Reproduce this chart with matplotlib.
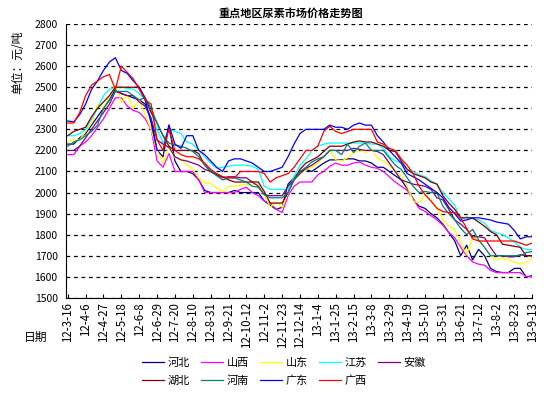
import numpy as np
import matplotlib
matplotlib.use("Agg")
import matplotlib.pyplot as plt

plt.rcParams['font.family'] = ['Noto Sans CJK SC', 'DejaVu Sans']

# weekly dates, a tick label every 3 weeks
tick_labels = ["12-3-16", "12-4-6", "12-4-27", "12-5-18", "12-6-8", "12-6-29", "12-7-20",
               "12-8-10", "12-8-31", "12-9-21", "12-10-12", "12-11-2", "12-11-23", "12-12-14",
               "13-1-4", "13-1-25", "13-2-15", "13-3-8", "13-3-29", "13-4-19", "13-5-10",
               "13-5-31", "13-6-21", "13-7-12", "13-8-2", "13-8-23", "13-9-13"]

hebei = [2230, 2230, 2260, 2280, 2320, 2360, 2400, 2440, 2490, 2470, 2460, 2450, 2440, 2420, 2350, 2200,
         2170, 2320, 2150, 2100, 2100, 2090, 2060, 2010, 2000, 2000, 2000, 2000, 2010, 2000, 2000, 2000,
         2000, 1960, 1940, 1920, 1930, 2040, 2070, 2100, 2110, 2100, 2120, 2140, 2155, 2155, 2155, 2160,
         2160, 2150, 2150, 2140, 2120, 2120, 2100, 2080, 2060, 2020, 1970, 1935, 1925, 1900, 1880, 1850,
         1810, 1770, 1700, 1750, 1680, 1730, 1700, 1640, 1625, 1620, 1620, 1640, 1640, 1600, 1605]
shanxi = [2180, 2180, 2220, 2240, 2270, 2310, 2350, 2400, 2450, 2450, 2410, 2390, 2380, 2350, 2300, 2150,
          2120, 2185, 2100, 2100, 2100, 2100, 2060, 2000, 2000, 2000, 2000, 2000, 2000, 2015, 2025, 2000,
          1985, 1960, 1950, 1920, 1905, 1985, 2030, 2050, 2050, 2050, 2085, 2100, 2125, 2140, 2130, 2130,
          2140, 2145, 2130, 2120, 2115, 2100, 2075, 2050, 2030, 2010, 1970, 1925, 1910, 1890, 1870, 1845,
          1810, 1785, 1740, 1700, 1670, 1660, 1655, 1630, 1620, 1620, 1620, 1620, 1620, 1600, 1600]
shandong = [2240, 2250, 2250, 2290, 2330, 2420, 2400, 2460, 2510, 2430, 2460, 2400, 2440, 2370, 2300, 2200,
            2140, 2225, 2165, 2160, 2130, 2110, 2070, 2045, 2045, 2020, 2005, 2030, 2030, 2035, 2040, 2040,
            2040, 1990, 1930, 1955, 1930, 2000, 2060, 2085, 2110, 2120, 2140, 2170, 2200, 2155, 2150, 2165,
            2190, 2205, 2190, 2205, 2165, 2150, 2130, 2100, 2080, 2030, 1960, 1950, 1990, 1960, 1930, 1870,
            1840, 1825, 1760, 1705, 1790, 1775, 1740, 1700, 1680, 1690, 1680, 1670, 1660, 1670, 1690]
jiangsu = [2270, 2270, 2280, 2300, 2350, 2400, 2460, 2490, 2500, 2500, 2495, 2490, 2470, 2440, 2380, 2300,
           2235, 2300, 2290, 2280, 2240, 2230, 2200, 2170, 2140, 2115, 2120, 2125, 2130, 2130, 2130, 2125,
           2110, 2030, 2015, 2015, 2015, 2015, 2075, 2130, 2160, 2200, 2220, 2230, 2235, 2235, 2235, 2235,
           2235, 2235, 2235, 2230, 2230, 2210, 2170, 2150, 2140, 2110, 2100, 2085, 2075, 2055, 2040, 2000,
           1970, 1940, 1870, 1885, 1875, 1870, 1855, 1820, 1810, 1800, 1785, 1765, 1740, 1730, 1730]
anhui = [2200, 2200, 2220, 2260, 2300, 2340, 2380, 2420, 2480, 2470, 2460, 2460, 2430, 2410, 2350, 2250,
         2230, 2215, 2170, 2155, 2150, 2140, 2130, 2110, 2100, 2085, 2070, 2075, 2075, 2070, 2070, 2050,
         2030, 1990, 1985, 1985, 1985, 2030, 2060, 2090, 2115, 2130, 2150, 2170, 2200, 2200, 2200, 2200,
         2210, 2205, 2200, 2200, 2195, 2180, 2140, 2100, 2060, 2050, 2040, 2035, 2030, 2015, 1975, 1965,
         1920, 1870, 1850, 1825, 1790, 1790, 1785, 1740, 1700, 1700, 1695, 1695, 1705, 1700, 1700]
hubei = [2270, 2290, 2300, 2310, 2360, 2400, 2430, 2460, 2500, 2500, 2500, 2500, 2500, 2450, 2380, 2330,
         2270, 2220, 2200, 2200, 2200, 2200, 2185, 2130, 2100, 2085, 2075, 2060, 2050, 2050, 2050, 2050,
         2050, 2005, 1950, 1950, 1950, 2000, 2060, 2110, 2140, 2155, 2170, 2195, 2220, 2220, 2220, 2230,
         2240, 2245, 2240, 2240, 2230, 2220, 2200, 2195, 2150, 2110, 2090, 2080, 2070, 2050, 2040, 1985,
         1950, 1920, 1880, 1880, 1880, 1860, 1840, 1815, 1800, 1755, 1750, 1745, 1740, 1700, 1700]
henan = [2220, 2240, 2250, 2270, 2290, 2320, 2400, 2440, 2480, 2480, 2480, 2460, 2440, 2450, 2400, 2330,
         2270, 2235, 2225, 2220, 2210, 2195, 2170, 2130, 2100, 2080, 2060, 2070, 2070, 2060, 2050, 2030,
         2025, 1990, 1975, 1975, 1975, 2000, 2060, 2100, 2120, 2145, 2160, 2170, 2200, 2200, 2180, 2230,
         2190, 2220, 2235, 2200, 2200, 2200, 2165, 2130, 2110, 2070, 2030, 2000, 2005, 2000, 2000, 1935,
         1900, 1870, 1830, 1800, 1825, 1775, 1740, 1700, 1700, 1700, 1700, 1700, 1700, 1715, 1720]
guangdong = [2340, 2335, 2370, 2420, 2490, 2530, 2580, 2620, 2640, 2580, 2565, 2530, 2500, 2440, 2330, 2200,
             2200, 2320, 2230, 2210, 2270, 2270, 2200, 2180, 2150, 2120, 2100, 2150, 2160, 2160, 2150, 2140,
             2120, 2100, 2100, 2110, 2120, 2170, 2230, 2280, 2300, 2300, 2300, 2300, 2320, 2310, 2310, 2300,
             2320, 2330, 2320, 2320, 2270, 2240, 2200, 2170, 2140, 2090, 2075, 2060, 2040, 2020, 2000, 1975,
             1930, 1900, 1865, 1870, 1880, 1880, 1875, 1870, 1860, 1855, 1850, 1820, 1780, 1790, 1790]
guangxi = [2330, 2330, 2380, 2460, 2510, 2530, 2550, 2560, 2490, 2600, 2570, 2540, 2490, 2440, 2420, 2250,
           2200, 2300, 2200, 2180, 2170, 2170, 2160, 2140, 2110, 2090, 2075, 2070, 2070, 2100, 2100, 2100,
           2100, 2090, 2050, 2070, 2080, 2090, 2120, 2160, 2200, 2200, 2220, 2290, 2315, 2290, 2280, 2290,
           2300, 2300, 2300, 2300, 2240, 2230, 2210, 2200, 2160, 2130, 2090, 2030, 1990, 1960, 1925, 1910,
           1905, 1905, 1880, 1830, 1780, 1770, 1770, 1770, 1770, 1770, 1770, 1770, 1760, 1750, 1760]

names = ["河北", "山西", "山东", "江苏", "安徽", "湖北", "河南", "广东", "广西"]
series = [hebei, shanxi, shandong, jiangsu, anhui, hubei, henan, guangdong, guangxi]
colors = ["#000080", "#FF00FF", "#FFFF00", "#00FFFF", "#800080",
          "#800000", "#008080", "#0000FF", "#FF0000"]

fig = plt.figure(figsize=(5.59, 3.94), dpi=100)
ax = fig.add_axes([0.118, 0.244, 0.834, 0.695])

x = np.arange(len(hebei))
lines = []
for name, vals, c in zip(names, series, colors):
    l, = ax.plot(x, vals, color=c, lw=0.9, label=name)
    lines.append(l)

ax.set_xlim(-0.3, x[-1])
ax.set_ylim(1500, 2800)
ax.set_yticks(np.arange(1500, 2801, 100))
ax.set_xticks(x[::3])
ax.set_xticklabels(tick_labels, rotation=90, fontsize=8.3)
ax.tick_params(axis='y', length=0, labelsize=7.5, pad=6)
ax.tick_params(axis='x', direction='in', length=3, pad=3)
ax.yaxis.grid(True, color='black', linestyle=(0, (3, 3)), lw=0.9)
ax.set_axisbelow(True)
for s in ['top', 'right']:
    ax.spines[s].set_visible(False)

fig.text(291 / 559, 1 - 13 / 394, "重点地区尿素市场价格走势图", fontsize=8, fontweight='bold',
         ha='center', va='center')
fig.text(18 / 559, 1 - 62 / 394, "单位：元/吨", rotation=90, fontsize=8.5, ha='center', va='center')
fig.text(36 / 559, 1 - 337 / 394, "日期", fontsize=8.5, ha='center', va='center')

order = [0, 5, 1, 6, 2, 7, 3, 8, 4]
fig.legend([lines[i] for i in order], [names[i] for i in order], ncol=5,
           loc='center', bbox_to_anchor=(284 / 559, 1 - 371.5 / 394), frameon=False,
           fontsize=8, handlelength=2.0, handletextpad=0.3, columnspacing=1.0,
           labelspacing=0.7, borderpad=0)

fig.savefig("out.png", dpi=100)
